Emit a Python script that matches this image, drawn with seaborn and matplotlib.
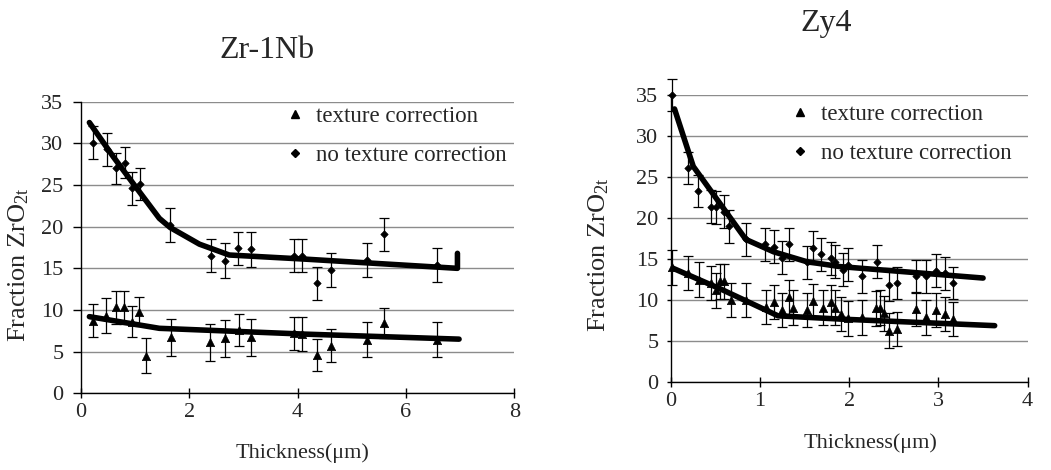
import numpy as np
import pandas as pd
import matplotlib
matplotlib.use("Agg")
import matplotlib.pyplot as plt
from matplotlib.lines import Line2D
import seaborn as sns

# ---------------- data: Zr-1Nb (left) ----------------
L_tc_x = [0.22, 0.46, 0.65, 0.79, 0.94, 1.08, 1.20, 1.66, 2.38, 2.66, 2.92, 3.15, 3.93, 4.09, 4.35, 4.62, 5.29, 5.60, 6.58]
L_tc_y = [8.7, 9.3, 10.3, 10.3, 8.6, 9.8, 4.5, 6.7, 6.1, 6.6, 7.6, 6.7, 7.2, 7.1, 4.6, 5.7, 6.4, 8.4, 6.4]
L_tc_e = [2.0, 2.1, 2.0, 2.0, 1.9, 1.7, 2.1, 2.2, 2.2, 2.2, 1.9, 2.2, 2.0, 2.0, 1.9, 2.0, 2.1, 1.8, 2.1]

L_nt_x = [0.23, 0.48, 0.65, 0.82, 0.94, 1.10, 1.65, 2.40, 2.66, 2.91, 3.15, 3.93, 4.09, 4.35, 4.62, 5.29, 5.60, 6.58]
L_nt_y = [30.1, 29.3, 27.0, 27.7, 24.6, 25.1, 20.2, 16.5, 15.9, 17.4, 17.3, 16.5, 16.5, 13.2, 14.8, 16.0, 19.1, 15.4]
L_nt_e = [2.0, 2.0, 1.9, 1.9, 2.0, 1.9, 2.0, 2.0, 2.1, 2.0, 2.1, 2.0, 2.0, 2.0, 2.0, 2.1, 2.0, 2.0]

L_fit_nt_x = [0.16, 0.60, 1.00, 1.45, 1.65, 2.19, 2.74, 4.15, 6.95, 6.95]
L_fit_nt_y = [32.5, 28.4, 24.9, 21.0, 19.9, 17.9, 16.6, 16.1, 15.0, 16.8]
L_fit_tc_x = [0.16, 1.45, 4.15, 6.98]
L_fit_tc_y = [9.2, 7.8, 7.1, 6.5]

# ---------------- data: Zy4 (right) ----------------
R_tc_x = [0.01, 0.19, 0.31, 0.45, 0.50, 0.55, 0.59, 0.67, 0.84, 1.07, 1.15, 1.24, 1.32, 1.37, 1.52, 1.59,
          1.70, 1.79, 1.84, 1.91, 1.99, 2.14, 2.30, 2.34, 2.39, 2.45, 2.53, 2.75, 2.86, 2.97, 3.07, 3.16]
R_tc_y = [14.0, 13.3, 12.5, 12.1, 11.2, 12.3, 12.3, 10.0, 10.0, 9.2, 9.8, 8.8, 10.4, 9.1, 8.8, 9.9,
          9.1, 9.8, 9.1, 8.3, 7.8, 7.9, 9.0, 9.1, 8.4, 6.3, 6.5, 8.9, 7.9, 8.8, 8.3, 7.7]
R_tc_e = [2.1] * len(R_tc_x)

R_nt_x = [0.01, 0.19, 0.30, 0.45, 0.50, 0.59, 0.65, 0.84, 1.05, 1.15, 1.24, 1.32, 1.52, 1.59, 1.68,
          1.80, 1.84, 1.93, 1.99, 2.14, 2.31, 2.44, 2.53, 2.75, 2.86, 2.97, 3.07, 3.16]
R_nt_y = [35.0, 26.1, 23.3, 21.4, 21.3, 20.8, 19.0, 17.4, 16.8, 16.5, 15.2, 16.8, 14.6, 16.4, 15.6,
          15.1, 14.7, 13.7, 14.3, 12.9, 14.7, 11.9, 12.1, 12.9, 12.9, 13.6, 13.3, 12.1]
R_nt_e = [2.0] * len(R_nt_x)

R_fit_nt_x = [0.04, 0.25, 0.84, 1.15, 1.52, 1.89, 3.50]
R_fit_nt_y = [33.3, 26.3, 17.4, 15.9, 14.7, 14.1, 12.7]
R_fit_tc_x = [0.00, 0.57, 1.20, 1.90, 3.63]
R_fit_tc_y = [14.0, 11.3, 8.1, 7.7, 6.9]

LBL_TC = "texture correction"
LBL_NT = "no texture correction"
Y_TICKS = [0, 5, 10, 15, 20, 25, 30, 35]

# ---------------- style ----------------
sns.set_theme(style="white")
plt.rcParams["font.family"] = ["Liberation Serif", "DejaVu Serif"]
plt.rcParams["mathtext.fontset"] = "custom"
plt.rcParams["mathtext.rm"] = "Liberation Serif"
plt.rcParams["mathtext.it"] = "Liberation Serif:italic"

fig = plt.figure(figsize=(10.51, 4.70), dpi=100)
axL = fig.add_axes([0.0768, 0.1632, 0.4126, 0.6204])
axR = fig.add_axes([0.6384, 0.1866, 0.3394, 0.6113])


def panel(ax, tx, ty, te, nx, ny, ne, ftx, fty, fnx, fny, xmax, xticks, ytick_len, ytick_pad):
    ax.set_facecolor("white")
    ax.set_axisbelow(True)
    ax.yaxis.grid(True, color="#8c8c8c", lw=1.0)
    ax.xaxis.grid(False)
    for s in ["top", "right"]:
        ax.spines[s].set_visible(False)
    for s in ["left", "bottom"]:
        ax.spines[s].set_color("black")
        ax.spines[s].set_linewidth(1.0)

    ax.errorbar(tx, ty, yerr=te, fmt="none", ecolor="black", elinewidth=0.9,
                capsize=3.5, capthick=0.9, clip_on=False, zorder=3)
    ax.errorbar(nx, ny, yerr=ne, fmt="none", ecolor="black", elinewidth=0.9,
                capsize=3.5, capthick=0.9, clip_on=False, zorder=3)

    sns.lineplot(x=fnx, y=fny, ax=ax, color="black", lw=4.0, sort=False,
                 estimator=None, zorder=4)
    sns.lineplot(x=ftx, y=fty, ax=ax, color="black", lw=4.0, sort=False,
                 estimator=None, zorder=4)

    df_t = pd.DataFrame({"x": tx, "y": ty})
    df_n = pd.DataFrame({"x": nx, "y": ny})
    sns.scatterplot(data=df_t, x="x", y="y", ax=ax, marker="^", s=36, color="black",
                    edgecolor="black", linewidth=0.5, legend=False, zorder=5, clip_on=False)
    sns.scatterplot(data=df_n, x="x", y="y", ax=ax, marker="D", s=14, color="black",
                    edgecolor="black", linewidth=0.5, legend=False, zorder=5, clip_on=False)

    ax.set_xlim(0, xmax)
    ax.set_ylim(0, 35)
    ax.set_xticks(xticks)
    ax.set_yticks(Y_TICKS)
    ax.set_xlabel("")
    ax.set_ylabel("")
    ax.tick_params(axis="y", direction="out", length=ytick_len, width=1.0, color="black",
                   pad=ytick_pad, labelsize=16, left=True)
    ax.tick_params(axis="x", direction="inout", length=7, width=1.0, color="black",
                   pad=3.5, labelsize=16, bottom=True)


panel(axL, L_tc_x, L_tc_y, L_tc_e, L_nt_x, L_nt_y, L_nt_e,
      L_fit_tc_x, L_fit_tc_y, L_fit_nt_x, L_fit_nt_y, 8, [0, 2, 4, 6, 8], 5.5, 7)
panel(axR, R_tc_x, R_tc_y, R_tc_e, R_nt_x, R_nt_y, R_nt_e,
      R_fit_tc_x, R_fit_tc_y, R_fit_nt_x, R_fit_nt_y, 4, [0, 1, 2, 3, 4], 3, 6)

handles = [Line2D([], [], ls="none", marker="^", ms=5.5, color="black"),
           Line2D([], [], ls="none", marker="D", ms=3.6, color="black")]
W, H = 1051.0, 470.0
for ax, lx, ty in [(axL, 286, 106), (axR, 791, 104)]:
    ax.legend(handles, [LBL_TC, LBL_NT], loc="upper left",
              bbox_to_anchor=(lx / W, 1 - ty / H), bbox_transform=fig.transFigure,
              frameon=False, fontsize=16.5, handlelength=0.8, handletextpad=0.5,
              labelspacing=0.8, borderpad=0, borderaxespad=0)

# titles and axis labels
fig.text(267 / W, 1 - 51 / H, "Zr-1Nb", ha="center", va="center", fontsize=23)
fig.text(826 / W, 1 - 24 / H, "Zy4", ha="center", va="center", fontsize=23)
fig.text(302 / W, 1 - 453 / H, "Thickness(\u03bcm)", ha="center", va="center", fontsize=16)
fig.text(870 / W, 1 - 443 / H, "Thickness(\u03bcm)", ha="center", va="center", fontsize=16)
fig.text(19 / W, 1 - 265 / H, r"Fraction ZrO$_{\mathrm{2t}}$", rotation=90,
         ha="center", va="center", fontsize=19)
fig.text(599 / W, 1 - 255 / H, r"Fraction ZrO$_{\mathrm{2t}}$", rotation=90,
         ha="center", va="center", fontsize=19)

fig.savefig("out.png", dpi=100, facecolor="white")
